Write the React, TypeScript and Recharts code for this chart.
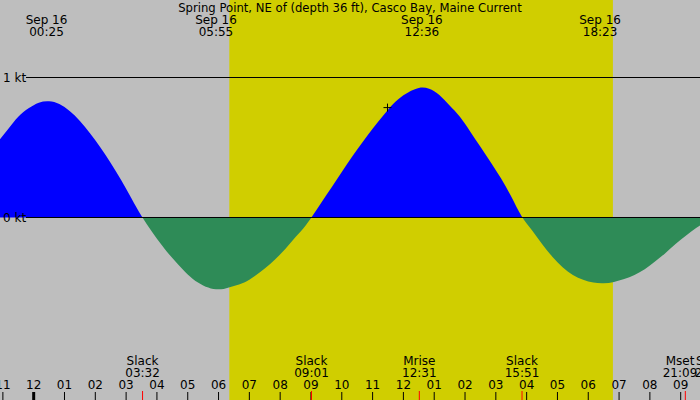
import { AreaChart, Area, XAxis, YAxis, ReferenceArea, ReferenceLine, ReferenceDot } from "recharts";

// minutes after midnight, Sep 16
const times = [
  -70, -50, -30, -10, 10, 30, 50, 70, 90, 110, 130, 150, 170, 190, 210, 230, 250, 270, 290, 310,
  330, 350, 370, 390, 410, 430, 450, 470, 490, 510, 530, 550, 570, 590, 610, 630, 650, 670, 690, 710,
  730, 750, 770, 790, 810, 830, 850, 870, 890, 910, 930, 950, 970, 990, 1010, 1030, 1050, 1070, 1090, 1110,
  1130, 1150, 1170, 1190, 1210, 1230, 1250, 1270, 1290, 1310,
];
// knots, flood positive
const speeds = [
  0.54, 0.63, 0.72, 0.78, 0.82, 0.83, 0.81, 0.76, 0.69, 0.6, 0.5, 0.39, 0.27, 0.14, 0.01, -0.1, -0.2, -0.29, -0.37, -0.44,
  -0.485, -0.51, -0.51, -0.49, -0.465, -0.42, -0.365, -0.3, -0.225, -0.14, -0.055, 0.05, 0.16, 0.27, 0.38, 0.485, 0.585, 0.68, 0.77, 0.845,
  0.895, 0.925, 0.92, 0.875, 0.8, 0.72, 0.615, 0.505, 0.395, 0.28, 0.15, 0.01, -0.09, -0.19, -0.28, -0.355, -0.41, -0.445, -0.465, -0.47,
  -0.46, -0.44, -0.41, -0.37, -0.315, -0.255, -0.19, -0.13, -0.075, -0.03,
];

const hourTicks = [
  -60, 0, 60, 120, 180, 240, 300, 360, 420, 480, 540, 600, 660, 720, 780, 840, 900, 960, 1020, 1080, 1140, 1200, 1260,
];

const extremeTimes = [25, 355, 756, 1103];
const extremeLabels = ["00:25", "05:55", "12:36", "18:23"];

const eventTimes = [212, 541, 751, 951, 1269, 1321];
const eventNames = ["Slack", "Slack", "Mrise", "Slack", "Mset", "Slack"];
const eventLabels = ["03:32", "09:01", "12:31", "15:51", "21:09", "22:01"];

const sunrise = 381; // 06:21
const sunset = 1128; // 18:48
const nowTime = 689;
const nowSpeed = 0.785;
const ktTicks = [0, 1];
const dateLabel = "Sep 16";
const title = "Spring Point, NE of (depth 36 ft), Casco Bay, Maine Current";

const CHART_W = 700;
const CHART_H = 400;
const X_DOMAIN: [number, number] = [-65.6, 1297.6];
const Y_DOMAIN: [number, number] = [-1.3036, 1.5536];
const KT_LINE_START = -15;
const FONT = "DejaVu Sans";
const LABEL_HALF = 15;
const LABEL_GAP = 2;

const data = times.map((t, i) => ({ time: t, speed: speeds[i] }));
const maxV = Math.max(...speeds);
const minV = Math.min(...speeds);
const splitOffset = maxV / (maxV - minV);

const pxPerMin = CHART_W / (X_DOMAIN[1] - X_DOMAIN[0]);
// push an event label left when it would run into the next one
const eventShift = eventTimes.map((t, i) => {
  if (i === eventTimes.length - 1) return 0;
  const gap = (eventTimes[i + 1] - t) * pxPerMin;
  return Math.max(0, 2 * LABEL_HALF + LABEL_GAP - gap);
});

const hourLabel = (m: number) => {
  const h = (((m / 60) % 24) + 24) % 24;
  const h12 = h % 12 === 0 ? 12 : h % 12;
  return String(h12).padStart(2, "0");
};

const HourTick = (props: any) => {
  const { x, y, payload } = props;
  const midnight = payload.value % 1440 === 0;
  return (
    <g>
      <line x1={x} x2={x} y1={y} y2={y - 8} stroke="#000" strokeWidth={midnight ? 3 : 1} />
      <text x={x} y={y - 11} textAnchor="middle" fontSize={12} fontFamily={FONT} fill="#000">
        {hourLabel(payload.value)}
      </text>
    </g>
  );
};

const EventTick = (props: any) => {
  const { x, y, index } = props;
  const tx = x - eventShift[index];
  return (
    <g>
      <line x1={x} x2={x} y1={y + 1} y2={y - 8} stroke="#FF0000" strokeWidth={1} />
      <text x={tx} y={y - 34} textAnchor="middle" fontSize={12} fontFamily={FONT} fill="#000">
        {eventNames[index]}
      </text>
      <text x={tx} y={y - 22} textAnchor="middle" fontSize={12} fontFamily={FONT} fill="#000">
        {eventLabels[index]}
      </text>
    </g>
  );
};

const ExtremeTick = (props: any) => {
  const { x, y, index } = props;
  return (
    <g>
      <text x={x} y={y + 24} textAnchor="middle" fontSize={12} fontFamily={FONT} fill="#000">
        {dateLabel}
      </text>
      <text x={x} y={y + 36} textAnchor="middle" fontSize={12} fontFamily={FONT} fill="#000">
        {extremeLabels[index]}
      </text>
    </g>
  );
};

const PlusMark = (props: any) => {
  const { cx, cy } = props;
  return (
    <g>
      <line x1={cx - 4} x2={cx + 4} y1={cy} y2={cy} stroke="#000" />
      <line x1={cx} x2={cx} y1={cy - 4} y2={cy + 4} stroke="#000" />
    </g>
  );
};

export default function App() {
  return (
    <div
      style={{
        position: "fixed",
        left: 0,
        top: 0,
        width: CHART_W,
        height: CHART_H,
        background: "#BEBEBE",
        fontFamily: FONT,
      }}
    >
      <AreaChart width={CHART_W} height={CHART_H} data={data} margin={{ top: 0, right: 0, bottom: 0, left: 0 }}>
        <defs>
          <linearGradient id="flowFill" x1="0" y1="0" x2="0" y2="1">
            <stop offset={splitOffset} stopColor="#0000FF" />
            <stop offset={splitOffset} stopColor="#2E8B57" />
          </linearGradient>
        </defs>
        <XAxis
          dataKey="time"
          type="number"
          domain={X_DOMAIN}
          allowDataOverflow
          ticks={hourTicks}
          interval={0}
          orientation="bottom"
          mirror
          height={1}
          tickSize={0}
          tickMargin={0}
          axisLine={false}
          tickLine={false}
          tick={HourTick}
        />
        <XAxis
          xAxisId="events"
          dataKey="time"
          type="number"
          domain={X_DOMAIN}
          allowDataOverflow
          ticks={eventTimes}
          interval={0}
          orientation="bottom"
          mirror
          height={1}
          tickSize={0}
          tickMargin={0}
          axisLine={false}
          tickLine={false}
          tick={EventTick}
        />
        <XAxis
          xAxisId="extremes"
          dataKey="time"
          type="number"
          domain={X_DOMAIN}
          allowDataOverflow
          ticks={extremeTimes}
          interval={0}
          orientation="top"
          mirror
          height={1}
          tickSize={0}
          tickMargin={0}
          axisLine={false}
          tickLine={false}
          tick={ExtremeTick}
        />
        <YAxis
          type="number"
          domain={Y_DOMAIN}
          allowDataOverflow
          ticks={ktTicks}
          interval={0}
          orientation="left"
          mirror
          tickSize={0}
          tickMargin={3}
          axisLine={false}
          tickLine={false}
          tickFormatter={(v: number) => `${v} kt`}
          tick={{ fill: "#000", fontSize: 12, fontFamily: FONT }}
        />
        <ReferenceArea x1={sunrise} x2={sunset} fill="#D0CE00" fillOpacity={1} stroke="none" ifOverflow="hidden" />
        <Area
          type="natural"
          dataKey="speed"
          stroke="none"
          fill="url(#flowFill)"
          fillOpacity={1}
          isAnimationActive={false}
        />
        <ReferenceLine
          segment={[
            { x: KT_LINE_START, y: 1 },
            { x: X_DOMAIN[1], y: 1 },
          ]}
          stroke="#000"
          strokeWidth={1}
        />
        <ReferenceLine
          segment={[
            { x: KT_LINE_START, y: 0 },
            { x: X_DOMAIN[1], y: 0 },
          ]}
          stroke="#000"
          strokeWidth={1}
        />
        <ReferenceDot x={nowTime} y={nowSpeed} r={4} shape={PlusMark} />
      </AreaChart>
      <div
        style={{
          position: "absolute",
          left: 0,
          top: 1,
          width: CHART_W,
          textAlign: "center",
          fontSize: 11.65,
          lineHeight: "14px",
          color: "#000",
          pointerEvents: "none",
        }}
      >
        {title}
      </div>
    </div>
  );
}
